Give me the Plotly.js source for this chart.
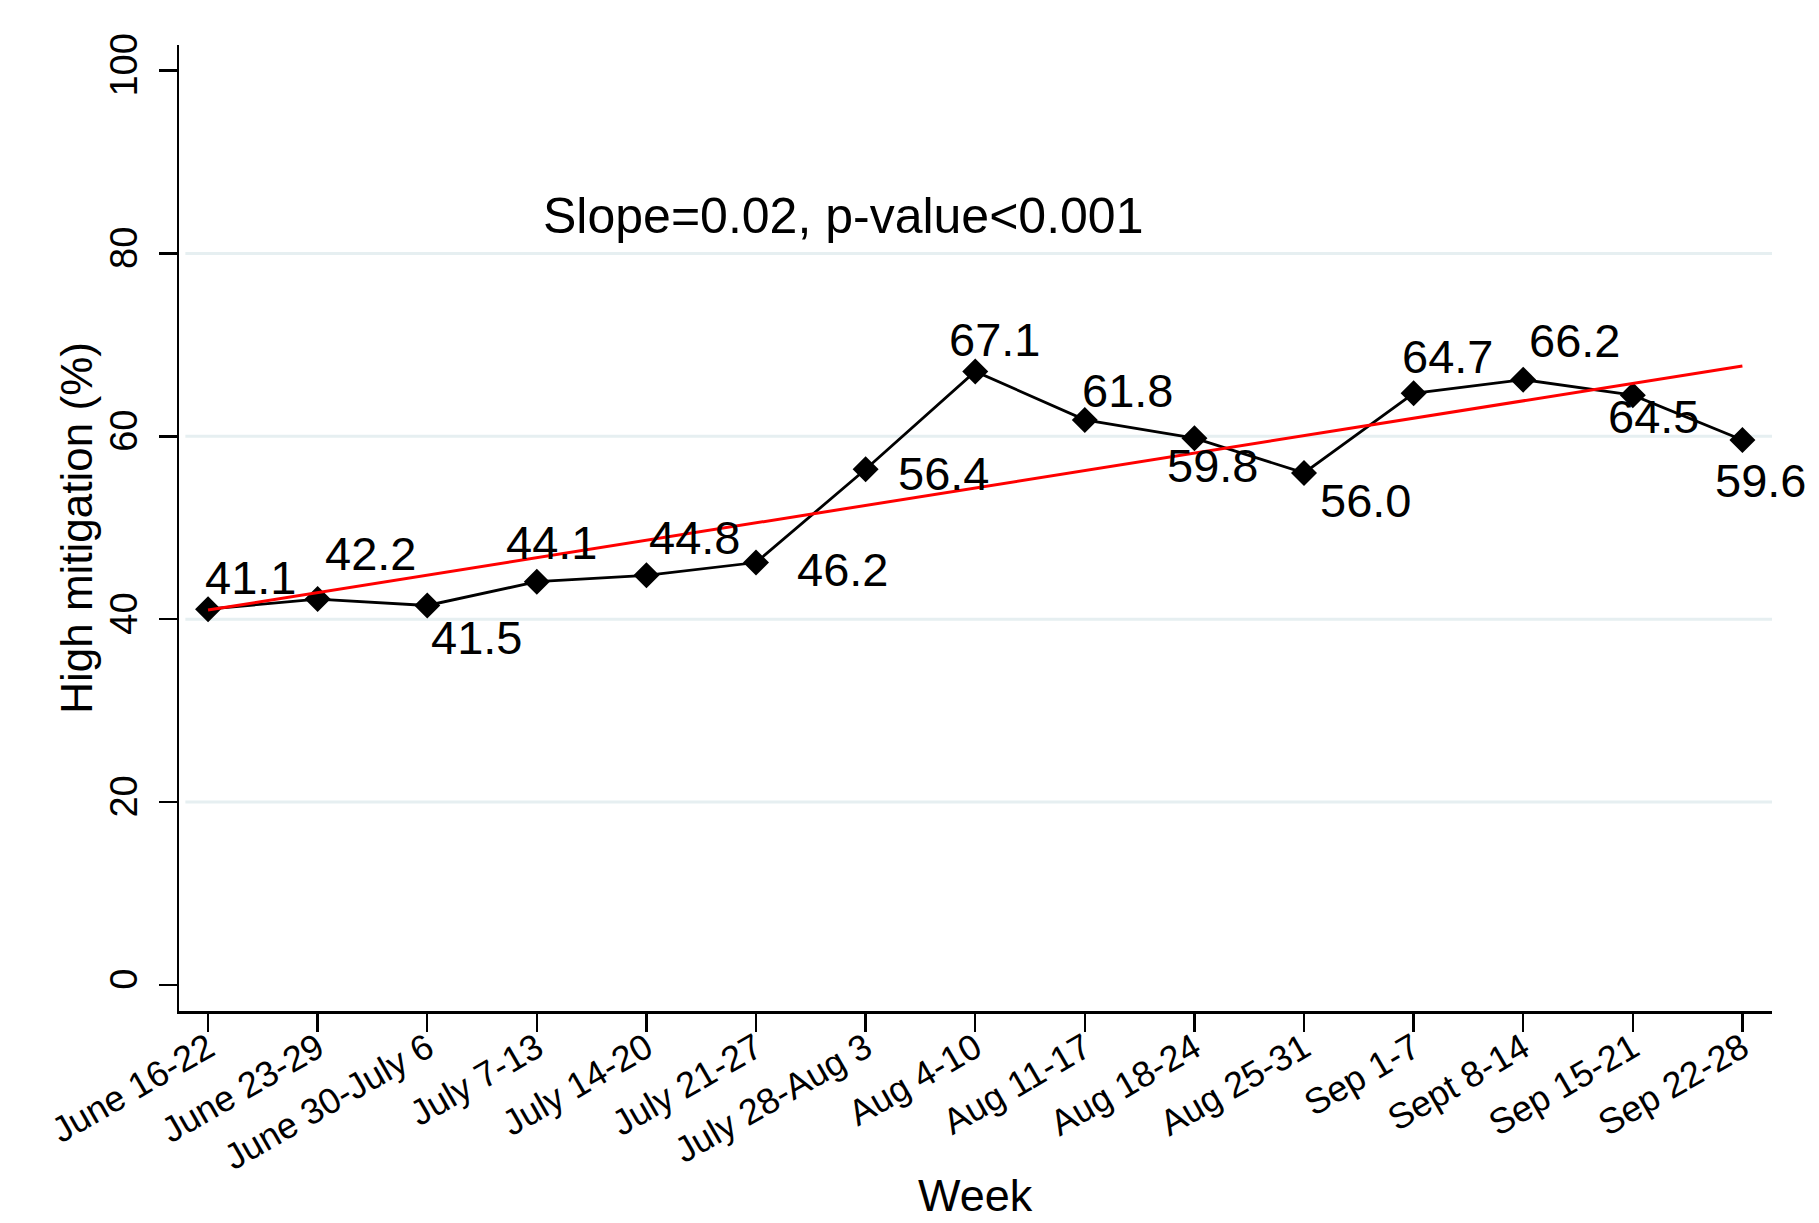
<!DOCTYPE html>
<html>
<head>
<meta charset="utf-8">
<script src="https://cdn.plot.ly/plotly-3.0.1.min.js"></script>
<style>html,body{margin:0;padding:0;background:#fff;}#chart{width:1819px;height:1223px;}</style>
</head>
<body>
<div id="chart"></div>
<script>
// ---- data ----
const weeks = ["June 16-22","June 23-29","June 30-July 6","July 7-13","July 14-20","July 21-27",
  "July 28-Aug 3","Aug 4-10","Aug 11-17","Aug 18-24","Aug 25-31","Sep 1-7","Sept 8-14","Sep 15-21","Sep 22-28"];
const highMitigation = [41.1,42.2,41.5,44.1,44.8,46.2,56.4,67.1,61.8,59.8,56.0,64.7,66.2,64.5,59.6];
const trendWeeks = ["June 16-22","Sep 22-28"];
const trendValues = [41.0,67.7];
const yTickValues = [0,20,40,60,80,100];
const gridValues = [20,40,60,80];
const noteText = "Slope=0.02, p-value<0.001";
const xTitle = "Week";
const yTitle = "High mitigation (%)";

// ---- label placement (pixel offsets from each marker: right, down) ----
const labelDx = [42,53,49,15,48,86,78,19,43,18,61,34,51,21,18];
const labelDy = [-32,-46,32,-39,-38,7,4,-32,-29,27,28,-37,-39,21,41];

const FONT = "Liberation Sans, Arial, Helvetica, sans-serif";
const XRANGE = [-0.265, 14.27];
const YRANGE = [-2.85, 102.8];

const traces = [
  {
    type: "scatter", mode: "lines+markers",
    x: weeks, y: highMitigation,
    line: {color: "#000000", width: 2.8},
    marker: {symbol: "diamond", size: 20, color: "#000000", line: {width: 0}},
    hoverinfo: "skip", showlegend: false
  },
  {
    type: "scatter", mode: "lines",
    x: trendWeeks, y: trendValues,
    line: {color: "#ff0000", width: 3},
    hoverinfo: "skip", showlegend: false
  },
  // same series on the overlaid label axes (invisible), so those axes carry the categories
  {
    type: "scatter", mode: "markers",
    x: weeks, y: highMitigation, xaxis: "x2", yaxis: "y2",
    marker: {opacity: 0, size: 1},
    hoverinfo: "skip", showlegend: false
  }
];

const annotations = highMitigation.map((v, i) => ({
  x: weeks[i], y: v, xref: "x", yref: "y",
  text: v.toFixed(1), showarrow: false,
  xanchor: "center", yanchor: "middle",
  xshift: labelDx[i], yshift: -labelDy[i],
  font: {family: FONT, size: 47, color: "#000000"}
}));
annotations.push({
  x: 5.8, y: 84.1, xref: "x", yref: "y",
  text: noteText, showarrow: false,
  xanchor: "center", yanchor: "middle",
  font: {family: FONT, size: 50, color: "#000000"}
});
// axis titles
annotations.push({
  x: 0.5, y: -0.1905, xref: "paper", yref: "paper",
  text: xTitle, showarrow: false,
  xanchor: "center", yanchor: "middle",
  font: {family: FONT, size: 45, color: "#000000"}
});
annotations.push({
  x: -0.0648, y: 0.5, xref: "paper", yref: "paper",
  text: yTitle, showarrow: false, textangle: -90,
  xanchor: "center", yanchor: "middle",
  font: {family: FONT, size: 44, color: "#000000"}
});

const shapes = gridValues.map(g => ({
  type: "line", xref: "paper", yref: "y",
  x0: 0.004, x1: 1, y0: g, y1: g,
  line: {color: "#e6eff1", width: 3}, layer: "below"
}));

const layout = {
  width: 1819, height: 1223,
  margin: {l: 179, r: 47, t: 45, b: 212, pad: 0},
  paper_bgcolor: "#ffffff", plot_bgcolor: "#ffffff",
  font: {family: FONT, color: "#000000"},
  showlegend: false,
  // axes with the lines and tick marks
  xaxis: {
    type: "category", categoryorder: "array", categoryarray: weeks,
    range: XRANGE,
    showline: true, linecolor: "#000000", linewidth: 2.5,
    ticks: "outside", ticklen: 18, tickwidth: 2.5, tickcolor: "#000000",
    showticklabels: false,
    showgrid: false, zeroline: false, automargin: false
  },
  yaxis: {
    range: YRANGE,
    tickmode: "array", tickvals: yTickValues,
    showline: true, linecolor: "#000000", linewidth: 2.5,
    ticks: "outside", ticklen: 18, tickwidth: 2.5, tickcolor: "#000000",
    showticklabels: false,
    showgrid: false, zeroline: false, automargin: false
  },
  // overlaid axes that carry the tick labels
  xaxis2: {
    type: "category", categoryorder: "array", categoryarray: weeks,
    range: XRANGE, overlaying: "x", anchor: "free", position: 0, side: "bottom",
    showline: false, ticks: "outside", ticklen: 1, tickcolor: "rgba(0,0,0,0)",
    tickangle: -30, tickfont: {family: FONT, size: 36, color: "#000000"},
    showgrid: false, zeroline: false, automargin: false
  },
  yaxis2: {
    range: YRANGE, overlaying: "y", anchor: "x2", side: "left",
    tickmode: "array", tickvals: yTickValues, ticktext: yTickValues.map(String),
    showline: false, ticks: "outside", ticklen: 26, tickcolor: "rgba(0,0,0,0)",
    tickangle: -90, tickfont: {family: FONT, size: 38, color: "#000000"},
    showgrid: false, zeroline: false, automargin: false
  },
  annotations: annotations,
  shapes: shapes
};

Plotly.newPlot("chart", traces, layout, {staticPlot: true, displayModeBar: false});
</script>
</body>
</html>
